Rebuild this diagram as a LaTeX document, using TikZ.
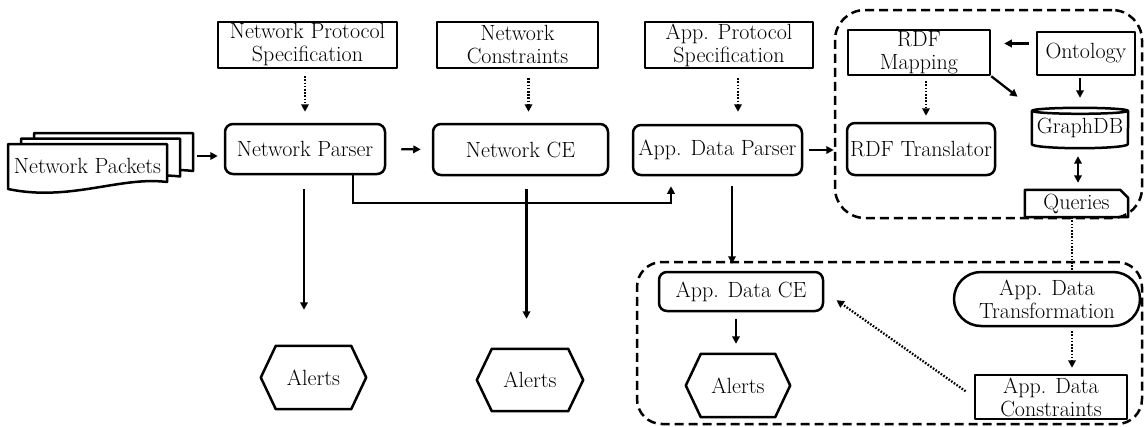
\documentclass[tikz,border=0pt]{standalone}
\usetikzlibrary{arrows.meta}
\newcommand\hexframe[1]{%
  \draw[frame] (#1.west) -- ([xshift=15pt]#1.north west) -- ([xshift=-15pt]#1.north east)
    -- (#1.east) -- ([xshift=-15pt]#1.south east) -- ([xshift=15pt]#1.south west) -- cycle;}
\begin{document}
\begin{tikzpicture}[x=1pt,y=-1pt,
  every node/.style={font=\fontsize{22}{23}\selectfont, inner sep=0pt, align=center},
  frame/.style={line width=2.5pt, line join=round},
  sqbox/.style={frame, draw, fill=white},
  rbox/.style={frame, draw, fill=white, rounded corners=8pt},
  arr/.style={line width=2.3pt, -{Triangle[length=7.5pt,width=7.5pt]}},
  dblarr/.style={line width=2.3pt, {Triangle[length=7.5pt,width=7.5pt]}-{Triangle[length=7.5pt,width=7.5pt]}},
  dotarr/.style={arr, dash pattern=on 1.6pt off 1.6pt},
  dotline/.style={line width=2.3pt, dash pattern=on 1.6pt off 1.6pt},
  group/.style={draw, line width=2.5pt, dash pattern=on 9pt off 5pt}]
\useasboundingbox (0,0) rectangle (1144,426);

% dashed groups
\node[group, rounded corners=30pt, minimum width=307pt, minimum height=208pt] (grp1) at (988.5,114) {};
\node[group, rounded corners=25pt, minimum width=505pt, minimum height=162pt] (grp2) at (889.5,343) {};

% stack of packet documents
\foreach \dx/\dy in {26/11, 13/5.5, 0/0} {
  \begin{scope}[shift={(\dx,-\dy)}]
    \filldraw[frame, fill=white] (8,144) -- (167,144) -- (167,182)
      .. controls (120,176) and (70,202) .. (8,189) -- cycle;
  \end{scope}
}
\node[minimum width=159pt, minimum height=46pt] (packets) at (87.5,166) {Network Packets};

% specification inputs
\node[sqbox, minimum width=179pt, minimum height=46pt] (spec1) at (307.5,45) {Network Protocol\\Specification};
\node[sqbox, minimum width=161pt, minimum height=46pt] (spec2) at (517.5,45) {Network\\Constraints};
\node[sqbox, minimum width=168pt, minimum height=46pt] (spec3) at (729,45) {App. Protocol\\Specification};

% processing chain
\node[rbox, minimum width=160pt, minimum height=50pt] (parser1) at (305,149) {Network Parser};
\node[rbox, minimum width=175pt, minimum height=51pt] (ce1) at (520.5,149.5) {Network CE};
\node[rbox, minimum width=169pt, minimum height=50pt] (parser2) at (717.5,150) {App. Data Parser};

% semantic layer
\node[sqbox, minimum width=142pt, minimum height=45pt] (rdfmap) at (919,52.5) {RDF\\Mapping};
\node[sqbox, minimum width=98pt, minimum height=43pt] (onto) at (1086,53.5) {Ontology};
\node[rbox, minimum width=148pt, minimum height=52pt] (rdftrans) at (921,149) {RDF Translator};
\node[minimum width=96pt, minimum height=40pt] (graphdb) at (1080,128) {GraphDB};
\draw[frame] ([yshift=-3pt]graphdb.north) ellipse [x radius=48pt, y radius=3pt];
\draw[frame] ([yshift=-3pt]graphdb.north west) -- ([yshift=4pt]graphdb.south west)
  arc[start angle=180, end angle=360, x radius=48pt, y radius=4pt] -- ([yshift=-3pt]graphdb.north east);
\node[minimum width=103pt, minimum height=27pt] (queries) at (1076.5,203.5) {Queries};
\draw[frame] (queries.south west) -- (queries.north west) -- ([xshift=-8pt]queries.north east)
  -- ([yshift=-8pt]queries.north east) -- (queries.south east) -- cycle;

% application data checks
\node[sqbox, rounded corners=27pt, minimum width=186pt, minimum height=54pt] (transf) at (1047,299) {App. Data\\Transformation};
\node[sqbox, minimum width=152pt, minimum height=44pt] (adc) at (1051,397) {App. Data\\Constraints};
\node[rbox, minimum width=164pt, minimum height=39pt] (adce) at (741,291.5) {App. Data CE};

% alerts
\node[minimum width=105pt, minimum height=63pt] (alert1) at (313.5,377.5) {Alerts};
\node[minimum width=106pt, minimum height=62pt] (alert2) at (530,380) {Alerts};
\node[minimum width=104pt, minimum height=63pt] (alert3) at (738,385.5) {Alerts};
\hexframe{alert1}
\hexframe{alert2}
\hexframe{alert3}

% connectors
\draw[arr, shorten <=30pt, shorten >=6pt] (packets.east |- 0,156) -- (parser1.west |- 0,156);
\draw[arr, shorten <=15pt, shorten >=11pt] (parser1.east) -- (ce1.west);
\draw[dotarr, shorten <=7pt, shorten >=11pt] ([xshift=-2.5pt]spec1.south) -- ([xshift=-2.5pt]spec1.south |- parser1.north);
\draw[dotarr, shorten <=9pt, shorten >=11pt] ([xshift=11pt]spec2.south) -- ([xshift=11pt]spec2.south |- ce1.north);
\draw[dotarr, shorten <=9pt, shorten >=12pt] ([xshift=9pt]spec3.south) -- ([xshift=9pt]spec3.south |- parser2.north);
\draw[arr, shorten <=6pt, shorten >=12pt] (parser2.east) -- (parser2.east -| rdftrans.west);
\draw[arr, shorten >=10pt] ([xshift=48pt]parser1.south) -- ++(0,28) -| ([xshift=-46.5pt]parser2.south);
\draw[arr, shorten <=14pt, shorten >=36pt] ([xshift=-1pt]parser1.south) -- ([xshift=-1pt]parser1.south |- alert1.north);
\draw[arr, shorten <=13pt, shorten >=30pt] ([xshift=6pt]ce1.south) -- ([xshift=6pt]ce1.south |- alert2.north);
\draw[arr, shorten <=10pt, shorten >=-3pt] ([xshift=14.5pt]parser2.south) -- ([xshift=14.5pt]parser2.south |- grp2.north);
\draw[arr, shorten <=7pt, shorten >=10pt] ([xshift=-5pt]adce.south) -- ([xshift=-5pt]adce.south |- alert3.north);
\draw[dotarr, shorten <=10pt, shorten >=15pt] (adc.west) -- (adce.east);
\draw[dotline] ([xshift=-4.5pt]queries.south) -- ([xshift=-4.5pt]queries.south |- transf.north);
\draw[dotarr, shorten <=4pt, shorten >=6pt] ([xshift=25pt]transf.south) -- ([xshift=25pt]transf.south |- adc.north);
\draw[arr, shorten <=7pt, shorten >=13pt] ([yshift=10pt]onto.west) -- ([yshift=10pt]onto.west -| rdfmap.east);
\draw[dotarr, shorten <=5pt, shorten >=6pt] ([xshift=7pt]rdfmap.south) -- ([xshift=7pt]rdfmap.south |- rdftrans.north);
\draw[arr, shorten >=18pt] (rdfmap.south east) -- (graphdb.north west);
\draw[arr, shorten <=2pt, shorten >=10pt] (onto.south -| graphdb.north) -- (graphdb.north);
\draw[dblarr, shorten <=8pt, shorten >=7pt] ([xshift=-2pt]graphdb.south) -- ([xshift=-2pt]graphdb.south |- queries.north);
\end{tikzpicture}
\end{document}
